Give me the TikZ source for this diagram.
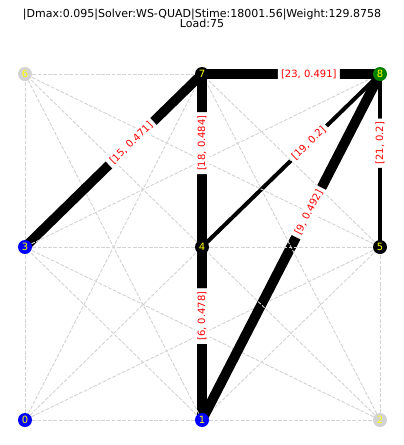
\documentclass[tikz,border=0pt]{standalone}
\usepackage{fontspec}
\setmainfont{DejaVu Sans}
\usetikzlibrary{backgrounds}
\definecolor{nodeblue}{HTML}{0000FF}
\definecolor{nodegreen}{HTML}{008000}
\definecolor{nodegray}{HTML}{D3D3D3}
\definecolor{nodeyellow}{HTML}{FFFF00}
\definecolor{labelred}{HTML}{FF0000}
\definecolor{gridgray}{HTML}{D3D3D3}
\tikzset{
    vertex/.style={
        circle,
        inner sep=0pt,
        minimum size=14pt,
        text=nodeyellow,
        font=\fontsize{10}{12}\selectfont
    },
    route/.style={
        draw=black,
        line cap=butt
    },
    candidate/.style={
        draw=gridgray,
        line width=0.9pt,
        dash pattern=on 3.7pt off 1.6pt
    },
    elabel/.style={
        sloped,
        pos=0.6,
        fill=white,
        draw=white,
        rounded corners=2pt,
        inner sep=3pt,
        text=labelred,
        font=\fontsize{10}{12}\selectfont
    },
    headline/.style={
        anchor=base,
        font=\fontsize{11}{13}\selectfont
    }
}

\begin{document}
\begin{tikzpicture}[x=1pt, y=-1pt]

        % vertices on the 3x3 grid
        \node (n0) [vertex, fill=nodeblue] at (25,420) {0};
        \node (n1) [vertex, fill=nodeblue] at (202,420) {1};
        \node (n2) [vertex, fill=nodegray] at (380,420) {2};
        \node (n3) [vertex, fill=nodeblue] at (25,247) {3};
        \node (n4) [vertex, fill=black] at (202,247) {4};
        \node (n5) [vertex, fill=black] at (380,247) {5};
        \node (n6) [vertex, fill=nodegray] at (25,74) {6};
        \node (n7) [vertex, fill=black] at (202,74) {7};
        \node (n8) [vertex, fill=nodegreen] at (380,74) {8};

        \node (title) [headline] at (202,17) {|Dmax:0.095|Solver:WS-QUAD|Stime:18001.56|Weight:129.8758};
        \node (load) [headline] at (202,27.8) {Load:75};

        \begin{scope}[on background layer]
        \path [use as bounding box, fill=white] (0,0) rectangle (404,445);

        % all edges, in drawing order (later ones lie on top)
        \draw [candidate] (n0) -- (n1);
        \draw [candidate] (n0) -- (n3);
        \draw [candidate] (n0) -- (n4);
        \draw [candidate] (n0) -- (n5);
        \draw [candidate] (n0) -- (n7);
        \draw [candidate] (n1) -- (n2);
        \draw [candidate] (n1) -- (n3);
        \draw [route, line width=9.56pt] (n1.center) -- (n4.center);
        \draw [candidate] (n1) -- (n5);
        \draw [candidate] (n1) -- (n6);
        \draw [candidate] (n2) -- (n3);
        \draw [route, line width=9.84pt] (n1.center) -- (n8.center);
        \draw [candidate] (n2) -- (n4);
        \draw [candidate] (n2) -- (n5);
        \draw [candidate] (n2) -- (n7);
        \draw [candidate] (n3) -- (n4);
        \draw [candidate] (n3) -- (n6);
        \draw [route, line width=9.42pt] (n3.center) -- (n7.center);
        \draw [candidate] (n3) -- (n8);
        \draw [candidate] (n4) -- (n5);
        \draw [candidate] (n4) -- (n6);
        \draw [route, line width=9.68pt] (n4.center) -- (n7.center);
        \draw [route, line width=4pt] (n4.center) -- (n8.center);
        \draw [candidate] (n5) -- (n6);
        \draw [candidate] (n5) -- (n7);
        \draw [route, line width=4pt] (n5.center) -- (n8.center);
        \draw [candidate] (n6) -- (n7);
        \draw [route, line width=9.82pt] (n7.center) -- (n8.center);

        % edge labels
        \path (n1.center) -- node [elabel] {[6, 0.478]} (n4.center);
        \path (n1.center) -- node [elabel] {[9, 0.492]} (n8.center);
        \path (n3.center) -- node [elabel] {[15, 0.471]} (n7.center);
        \path (n4.center) -- node [elabel] {[18, 0.484]} (n7.center);
        \path (n4.center) -- node [elabel] {[19, 0.2]} (n8.center);
        \path (n5.center) -- node [elabel] {[21, 0.2]} (n8.center);
        \path (n7.center) -- node [elabel] {[23, 0.491]} (n8.center);
        \end{scope}

    \end{tikzpicture}
\end{document}
